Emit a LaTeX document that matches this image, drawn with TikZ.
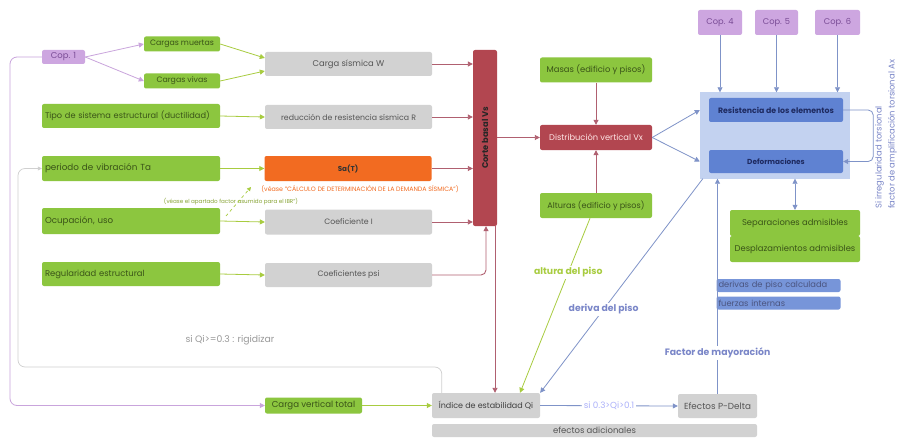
\documentclass[tikz,border=0pt]{standalone}
\usepackage{fontspec}
\setmainfont{Poppins}
\usetikzlibrary{arrows.meta,calc}
\definecolor{gfill}{HTML}{8CC63F}
\definecolor{gtext}{HTML}{3A5418}
\definecolor{grfill}{HTML}{D2D2D2}
\definecolor{grtext}{HTML}{555555}
\definecolor{pfill}{HTML}{CDA6E0}
\definecolor{ptext}{HTML}{7A4C96}
\definecolor{pline}{HTML}{C9A4DC}
\definecolor{ofill}{HTML}{F26B21}
\definecolor{rfill}{HTML}{B24650}
\definecolor{rline}{HTML}{B06070}
\definecolor{gline}{HTML}{A8CC40}
\definecolor{bfill}{HTML}{5F82D2}
\definecolor{blight}{HTML}{C3D2F0}
\definecolor{bline}{HTML}{7F93C8}
\definecolor{btext}{HTML}{1E2A60}
\definecolor{lblue}{HTML}{7A86C8}
\definecolor{grayline}{HTML}{D0D0D0}
\newcommand{\fsz}[1]{\fontsize{#1}{#1}\selectfont}
\begin{document}
\begin{tikzpicture}[x=1pt,y=-1pt,font=\fsz{8},
  sz/.style 2 args={minimum width=#1pt,minimum height=#2pt},
  box/.style={rectangle,rounded corners=2pt,inner sep=1pt,align=center},
  gbox/.style={box,fill=gfill,text=gtext},
  gybox/.style={box,fill=grfill,text=grtext},
  pbox/.style={box,fill=pfill,text=ptext},
  rbox/.style={box,fill=rfill},
  bbox/.style={box,fill=bfill,text=btext},
  tip/.style={-{Triangle[length=5pt,width=5pt]}},
  pl/.style={draw=pline,line width=0.8pt,tip},
  gl/.style={draw=gline,line width=0.8pt,tip},
  rl/.style={draw=rline,line width=0.9pt,tip},
  bl/.style={draw=bline,line width=0.8pt,tip},
  lbl/.style={fill=white,inner sep=1.5pt,font=\fsz{9.3}\bfseries}
]
\useasboundingbox[fill=white] (0,0) rectangle (899,441);

% left column
\node[pbox,sz={43}{14},font=\fsz{8.5}] (cop1) at (63.5,57) {Cop. 1};
\node[gbox,sz={76}{15},font=\fsz{7.8}] (muertas) at (182,44) {Cargas muertas};
\node[gbox,sz={76}{15},font=\fsz{7.8}] (vivas) at (182,81) {Cargas vivas};
\node[gbox,sz={178}{24},text width=172pt,align=left,font=\fsz{8.2}] (tipo) at (131,116) {Tipo de sistema estructural (ductilidad)};
\node[gbox,sz={178}{25},text width=172pt,align=left,font=\fsz{8.8}] (ta) at (131,168.5) {periodo de vibración Ta};
\node[gbox,sz={178}{26},text width=172pt,align=left,font=\fsz{8.7}] (ocup) at (131,221) {Ocupación, uso};
\node[gbox,sz={178}{24},text width=172pt,align=left,font=\fsz{8.4}] (reg) at (131,274) {Regularidad estructural};

% middle column
\node[gybox,sz={167}{24},font=\fsz{8.4}] (W) at (348.5,64) {Carga sísmica W};
\node[gybox,sz={167}{24},font=\fsz{7.8}] (R) at (348.5,117) {reducción de resistencia sísmica R};
\node[box,fill=ofill,sz={167}{25},text=black!80,font=\fsz{7.2}\bfseries] (sa) at (348,168.5) {Sa(T)};
\node[gybox,sz={167}{25},font=\fsz{7.8}] (ci) at (348.5,222) {Coeficiente I};
\node[gybox,sz={167}{24},font=\fsz{7.8}] (psi) at (348.5,275) {Coeficientes psi};

\node[text=ofill,inner sep=0pt,font=\fsz{6.3}] (sanote) at (360,189) {(véase "CÁLCULO DE DETERMINACIÓN DE LA DEMANDA SÍSMICA")};
\node[text=gline!80!black,inner sep=0pt,font=\fsz{5.6}] (ocnote) at (231,202) {(véase el apartado factor asumido para el IBR")};
\coordinate (ga) at (226,216);
\coordinate (gb) at (251,187);
\draw[draw=gline,line width=0.7pt,dashed,-{Triangle[length=4pt,width=4pt]}] (ga) -- (gb);

% corte basal
\node[rbox,sz={24}{176}] (vs) at (485,138) {};
\node[rotate=90,text=black!85,font=\fsz{8.3}\bfseries] at (vs.center) {Corte basal Vs};

\node[gbox,sz={112}{25},font=\fsz{8.4}] (masas) at (596,70) {Masas (edificio y pisos)};
\node[rbox,sz={112}{25},text=white!90!red,font=\fsz{8.3}] (dist) at (596,137.5) {Distribución vertical Vx};
\node[gbox,sz={112}{25},font=\fsz{8.1}] (alturas) at (596,205.5) {Alturas (edificio y pisos)};

% blue group
\node[rectangle,fill=blight,sz={150}{86}] (big) at (775,135.5) {};
\node[bbox,sz={134}{24},font=\fsz{7.8}\bfseries] (res) at (776,110) {Resistencia de los elementos};
\node[bbox,sz={134}{23},font=\fsz{7.3}\bfseries] (def) at (776,161.5) {Deformaciones};
\node[pbox,sz={44}{25},font=\fsz{8.3}] (cop4) at (720,22.5) {Cop. 4};
\node[pbox,sz={43}{25},font=\fsz{8.3}] (cop5) at (776.5,22.5) {Cop. 5};
\node[pbox,sz={45}{25},font=\fsz{8.3}] (cop6) at (837.5,22.5) {Cop. 6};

\node[gbox,sz={130}{26},font=\fsz{8.4}] (sep) at (795,223) {Separaciones admisibles};
\node[gbox,sz={130}{26},font=\fsz{8.4}] (desp) at (795,249) {Desplazamientos admisibles};

\node[box,fill=bfill!85,text=btext!80,sz={124}{13},inner sep=0pt,text width=120pt,align=left,font=\fsz{8.3}] (deriv) at (778.5,285.5) {derivas de piso calculada};
\node[box,fill=bfill!85,text=btext!80,sz={124}{13},inner sep=0pt,text width=120pt,align=left,font=\fsz{8.3}] (fint) at (778.5,303) {fuerzas internas};

\node[rotate=90,anchor=north west,align=left,text=lblue,inner sep=0pt,font=\fontsize{8.4}{13}\selectfont] (torsion) at (875,209) {Si irregularidad torsional\\factor de amplificación torsional Ax};

% bottom row
\node[gybox,sz={108}{25},font=\fsz{8}\selectfont,text=black!75] (qi) at (486,405.5) {Índice de estabilidad Qi};
\node[gybox,sz={325}{13},font=\fsz{8.5}] (efad) at (594.5,430.5) {efectos adicionales};
\node[gybox,sz={79}{24},font=\fsz{8.8}] (pdelta) at (717.5,406) {Efectos P-Delta};
\node[gbox,sz={97}{16},font=\fsz{8.6}] (cvt) at (313.5,405.5) {Carga vertical total};

\node[text=black!40,font=\fsz{9.3}] (rig) at (230,340) {si Qi>=0.3 : rigidizar};

% connectors: purple
\draw[pl] (cop1.east) -- (muertas.west);
\draw[pl] (cop1.east) -- (vivas.west);
\draw[pl,rounded corners=7pt] (cop1.west) -- (10,57) -- (10,405.5) -- (cvt.west);

% green
\draw[gl] (muertas.east) -- ([yshift=6pt]W.west);
\draw[gl] (vivas.east) -- ([yshift=-7pt]W.west);
\draw[gl] (tipo.east) -- (R.west);
\draw[gl] (ta.east) -- (sa.west);
\draw[gl] (ocup.east) -- (ci.west);
\draw[gl] (reg.east) -- (psi.west);
\draw[gl] (cvt.east) -- (cvt.east -| qi.west);

% red
\draw[rl] (W.east) -- (W.east -| vs.west);
\draw[rl] (R.east) -- (R.east -| vs.west);
\draw[rl] (sa.east) -- (sa.east -| vs.west);
\draw[rl] (ci.east) -- (ci.east -| vs.west);
\draw[rl,rounded corners=5pt] (psi.east) -| ([xshift=1pt]vs.south);
\draw[rl] (vs.east |- dist.west) -- (dist.west);
\draw[rl] (masas.south) -- (dist.north);
\draw[rl] (alturas.north) -- (dist.south);
\draw[rl] ([xshift=10pt]vs.south) -- ([xshift=10pt]vs.south |- qi.north);

% gray loop
\draw[draw=grayline,line width=0.7pt,-{Triangle[length=4pt,width=4pt]},rounded corners=7pt]
  ([xshift=10pt]qi.north west) -- ([xshift=10pt]qi.north west |- 0,367) -- (18,367) -- (18,168.5) -- (ta.west);

% blue
\draw[bl] (dist.east) -- (big.west |- res.center);
\draw[bl] (dist.east) -- (big.west |- def.center);
\draw[bl] (cop4.south) -- (cop4.south |- big.north);
\draw[bl] (cop5.south) -- (cop5.south |- big.north);
\draw[bl] (cop6.south) -- (cop6.south |- big.north);
\draw[bl,rounded corners=5pt] (res.east) -- ++(30,0) |- (def.east);
\draw[draw=bline,line width=0.7pt,{Triangle[length=5pt,width=5pt]}-{Triangle[length=5pt,width=5pt]}] (big.south -| sep.north) -- (sep.north);
\draw[bl] (pdelta.north) -- (pdelta.north |- big.south)
  node[pos=0.19,lbl,text=lblue] {Factor de mayoración};
\draw[bl] ([xshift=3pt]big.south west) -- (qi.north east)
  node[pos=0.61,lbl,text=lblue] {deriva del piso};
\draw[draw=gline,line width=0.8pt,tip] ([xshift=-6pt]alturas.south) -- ([xshift=34pt]qi.north)
  node[pos=0.31,lbl,text=gline] {altura del piso};
\draw[bl] (qi.east) -- (pdelta.west)
  node[midway,fill=white,inner sep=1.5pt,text=blight!60!blue!60,font=\fsz{8.8}] {si 0.3>Qi>0.1};
\end{tikzpicture}
\end{document}
